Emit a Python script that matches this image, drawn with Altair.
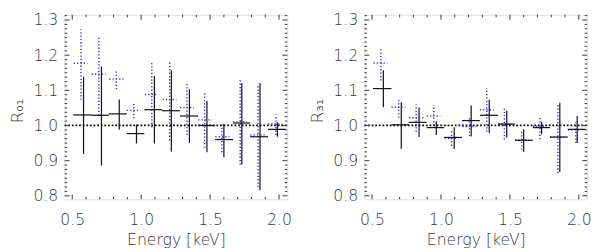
import altair as alt
import pandas as pd

# ---------------- data ----------------
energy = [0.582, 0.712, 0.841, 0.966, 1.096, 1.219, 1.350, 1.477, 1.600, 1.730, 1.862, 1.988]
bin_lo = [0.507, 0.641, 0.766, 0.896, 1.023, 1.152, 1.282, 1.414, 1.536, 1.666, 1.790, 1.920]
bin_hi = [0.641, 0.766, 0.896, 1.023, 1.152, 1.282, 1.414, 1.536, 1.666, 1.790, 1.920, 2.050]

energy_b = [0.564, 0.693, 0.820, 0.947, 1.077, 1.207, 1.332, 1.460, 1.585, 1.718, 1.848, 1.978]
bin_lo_b = [0.511, 0.641, 0.768, 0.896, 1.027, 1.155, 1.282, 1.414, 1.538, 1.666, 1.792, 1.920]
bin_hi_b = [0.610, 0.742, 0.872, 0.995, 1.124, 1.256, 1.383, 1.513, 1.640, 1.766, 1.895, 2.020]

# R01 (left panel)
r01 = [1.030, 1.029, 1.033, 0.977, 1.045, 1.042, 1.027, 1.000, 0.960, 1.007, 0.968, 0.989]
r01_lo = [0.919, 0.886, 0.988, 0.949, 0.949, 0.926, 0.950, 0.924, 0.910, 0.889, 0.816, 0.968]
r01_hi = [1.139, 1.168, 1.074, 1.003, 1.141, 1.157, 1.103, 1.070, 1.004, 1.121, 1.121, 1.009]
r01b = [1.177, 1.146, 1.132, 1.043, 1.088, 1.074, 1.051, 1.016, 0.968, 1.011, 0.973, 1.004]
r01b_lo = [1.073, 1.029, 1.103, 1.020, 0.995, 0.958, 0.973, 0.937, 0.924, 0.889, 0.825, 0.973]
r01b_hi = [1.274, 1.256, 1.155, 1.065, 1.181, 1.182, 1.123, 1.092, 1.004, 1.130, 1.119, 1.031]

# R31 (right panel)
r31 = [1.105, 1.002, 1.009, 0.994, 0.966, 1.014, 1.029, 1.004, 0.958, 0.994, 0.967, 0.989]
r31_lo = [1.052, 0.934, 0.967, 0.973, 0.933, 0.969, 0.979, 0.966, 0.925, 0.975, 0.868, 0.950]
r31_hi = [1.157, 1.066, 1.051, 1.012, 0.995, 1.057, 1.073, 1.042, 0.989, 1.011, 1.065, 1.027]
r31b = [1.178, 1.052, 1.022, 1.027, 0.964, 0.997, 1.045, 1.004, 0.958, 0.998, 0.967, 0.988]
r31b_lo = [1.128, 1.022, 0.982, 1.000, 0.942, 0.970, 0.982, 0.960, 0.931, 0.961, 0.865, 0.950]
r31b_hi = [1.218, 1.076, 1.060, 1.058, 0.987, 1.027, 1.106, 1.049, 0.987, 1.024, 1.063, 1.009]

ref_level = [1.0]

x_major = [0.5, 1.0, 1.5, 2.0]
x_minor = [0.6, 0.7, 0.8, 0.9, 1.1, 1.2, 1.3, 1.4, 1.6, 1.7, 1.8, 1.9]
y_major = [0.8, 0.9, 1.0, 1.1, 1.2, 1.3]
y_minor = [round(0.7875 + 0.0125 * i, 4) for i in range(43)]
y_minor = [v for v in y_minor if 0.79 <= v <= 1.315 and round(v * 10, 4) != round(v * 10)]

x_domain = [0.445, 2.06]
y_domain = [0.79, 1.315]

# ---------------- style ----------------
W, H = 228, 189
FONT = "DejaVu Sans"
TXT = "#3a3a3a"
BLACK = "#151515"
BLUE = "#3535d8"

xs = alt.Scale(domain=x_domain, nice=False, zero=False)
ys = alt.Scale(domain=y_domain, nice=False, zero=False)


def panel(ytitle, k, k_lo, k_hi, b, b_lo, b_hi):
    dk = pd.DataFrame({"e": energy, "xl": bin_lo, "xh": bin_hi, "y": k, "lo": k_lo, "hi": k_hi})
    db = pd.DataFrame({"e": energy_b, "xl": bin_lo_b, "xh": bin_hi_b, "y": b, "lo": b_lo, "hi": b_hi})

    xaxis = alt.Axis(values=x_major, format=".1f", ticks=False, tickSize=0, domain=False, grid=False,
                     labelPadding=13, labelFont=FONT, labelFontSize=16, labelFontWeight=200,
                     labelColor=TXT,
                     title="Energy [keV]", titleFont=FONT, titleFontSize=16, titleFontWeight=200,
                     titleColor=TXT, titleY=41, titleBaseline="middle")
    yaxis = alt.Axis(values=y_major, format=".1f", ticks=False, tickSize=0, domain=False, grid=False,
                     labelPadding=7, labelFont=FONT, labelFontSize=16, labelFontWeight=200,
                     labelColor=TXT,
                     title=ytitle, titleFont=FONT, titleFontSize=17, titleFontWeight=200,
                     titleColor=TXT, titleX=-48, titleY=98, titleBaseline="middle", titleAngle=270)

    def X(f):
        return alt.X(f, scale=xs, axis=xaxis)

    def Y(f):
        return alt.Y(f, scale=ys, axis=yaxis)

    k_v = alt.Chart(dk).mark_rule(color=BLACK, strokeWidth=1.25).encode(
        x=X("e:Q"), y=Y("lo:Q"), y2="hi:Q")
    k_h = alt.Chart(dk).mark_rule(color=BLACK, strokeWidth=1.25).encode(
        x=X("xl:Q"), x2="xh:Q", y=Y("y:Q"))
    b_v = alt.Chart(db).mark_rule(color=BLUE, strokeWidth=1.5, strokeDash=[1.3, 2.1]).encode(
        x=X("e:Q"), y=Y("lo:Q"), y2="hi:Q")
    b_h = alt.Chart(db).mark_rule(color=BLUE, strokeWidth=1.5, strokeDash=[1.3, 2.1]).encode(
        x=X("xl:Q"), x2="xh:Q", y=Y("y:Q"))
    ref = alt.Chart(pd.DataFrame({"v": ref_level})).mark_rule(
        color="#000000", strokeWidth=1.8, strokeDash=[1.8, 1.9]).encode(
        y=Y("v:Q"), x=alt.value(0), x2=alt.value(W))

    def xt(vals, y0, y1):
        return alt.Chart(pd.DataFrame({"v": vals})).mark_rule(color="#444444", strokeWidth=1.1).encode(
            x=X("v:Q"), y=alt.value(y0), y2=alt.value(y1))

    def yt(vals, x0, x1):
        return alt.Chart(pd.DataFrame({"v": vals})).mark_rule(color="#444444", strokeWidth=1.1).encode(
            y=Y("v:Q"), x=alt.value(x0), x2=alt.value(x1))

    ticks = [
        xt(x_major, H, H - 5), xt(x_minor, H, H - 2.5),
        xt(x_major, 0, 5), xt(x_minor, 0, 2.5),
        yt(y_major, 0, 5), yt(y_minor, 0, 2.5),
        yt(y_major, W, W - 5), yt(y_minor, W, W - 2.5),
    ]
    return alt.layer(k_v, ref, b_v, b_h, k_h, *ticks).properties(width=W, height=H)


left = panel("R₀₁", r01, r01_lo, r01_hi, r01b, r01b_lo, r01b_hi)
right = panel("R₃₁", r31, r31_lo, r31_hi, r31b, r31b_lo, r31b_hi)

chart = alt.hconcat(left, right, spacing=16).configure_view(
    stroke="#444444", strokeWidth=1.5
).configure(background="white", padding=0)

chart.save("out.html", embed_options={"renderer": "svg", "actions": False})
